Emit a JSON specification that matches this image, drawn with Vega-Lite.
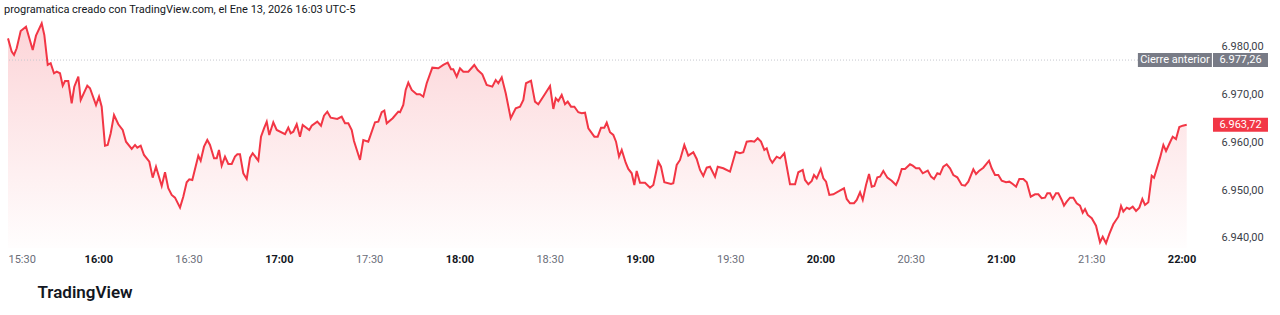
{
  "$schema": "https://vega.github.io/schema/vega-lite/v6.json",
  "width": 1202,
  "height": 228,
  "autosize": "none",
  "padding": {"left": 8, "top": 20, "right": 70, "bottom": 67},
  "background": "#ffffff",
  "title": {
    "text": "programatica creado con TradingView.com, el Ene 13, 2026 16:03 UTC-5",
    "anchor": "start",
    "fontSize": 11,
    "fontWeight": "normal",
    "color": "#131722",
    "font": "Roboto",
    "offset": 4
  },
  "config": {
    "view": {"stroke": null},
    "font": "Roboto"
  },
  "layer": [
    {
      "data": {"name": "serie", "values": [
        {"time":"2026-01-13T15:30:00","price":6981.8},
        {"time":"2026-01-13T15:31:14","price":6979.02},
        {"time":"2026-01-13T15:32:00","price":6978.33},
        {"time":"2026-01-13T15:32:53","price":6979.73},
        {"time":"2026-01-13T15:34:13","price":6983.35},
        {"time":"2026-01-13T15:35:59","price":6984.25},
        {"time":"2026-01-13T15:38:13","price":6979.37},
        {"time":"2026-01-13T15:39:18","price":6982.37},
        {"time":"2026-01-13T15:41:12","price":6984.96},
        {"time":"2026-01-13T15:42:04","price":6982.51},
        {"time":"2026-01-13T15:43:12","price":6976.23},
        {"time":"2026-01-13T15:44:11","price":6976.59},
        {"time":"2026-01-13T15:45:17","price":6974.49},
        {"time":"2026-01-13T15:46:11","price":6974.83},
        {"time":"2026-01-13T15:47:17","price":6974.49},
        {"time":"2026-01-13T15:48:11","price":6971.9},
        {"time":"2026-01-13T15:48:57","price":6972.88},
        {"time":"2026-01-13T15:50:02","price":6972.88},
        {"time":"2026-01-13T15:51:10","price":6968.21},
        {"time":"2026-01-13T15:52:02","price":6971.69},
        {"time":"2026-01-13T15:53:22","price":6973.78},
        {"time":"2026-01-13T15:54:10","price":6968.9},
        {"time":"2026-01-13T15:56:21","price":6971.9},
        {"time":"2026-01-13T15:57:15","price":6971.35},
        {"time":"2026-01-13T15:59:15","price":6967.85},
        {"time":"2026-01-13T16:00:15","price":6969.59},
        {"time":"2026-01-13T16:01:08","price":6967.5},
        {"time":"2026-01-13T16:02:14","price":6959.33},
        {"time":"2026-01-13T16:03:08","price":6959.48},
        {"time":"2026-01-13T16:04:08","price":6961.93},
        {"time":"2026-01-13T16:05:14","price":6965.76},
        {"time":"2026-01-13T16:06:40","price":6963.81},
        {"time":"2026-01-13T16:08:07","price":6962.62},
        {"time":"2026-01-13T16:09:13","price":6960.17},
        {"time":"2026-01-13T16:11:07","price":6958.64},
        {"time":"2026-01-13T16:12:13","price":6959.48},
        {"time":"2026-01-13T16:12:58","price":6958.91},
        {"time":"2026-01-13T16:14:06","price":6959.33},
        {"time":"2026-01-13T16:15:12","price":6957.38},
        {"time":"2026-01-13T16:16:58","price":6955.98},
        {"time":"2026-01-13T16:18:05","price":6952.63},
        {"time":"2026-01-13T16:19:11","price":6954.93},
        {"time":"2026-01-13T16:21:05","price":6950.89},
        {"time":"2026-01-13T16:22:11","price":6953.76},
        {"time":"2026-01-13T16:23:16","price":6950.41},
        {"time":"2026-01-13T16:24:24","price":6949.01},
        {"time":"2026-01-13T16:25:30","price":6948.44},
        {"time":"2026-01-13T16:27:10","price":6946.35},
        {"time":"2026-01-13T16:28:15","price":6948.65},
        {"time":"2026-01-13T16:29:23","price":6951.67},
        {"time":"2026-01-13T16:30:15","price":6952.29},
        {"time":"2026-01-13T16:31:15","price":6952.15},
        {"time":"2026-01-13T16:33:15","price":6957.24},
        {"time":"2026-01-13T16:34:02","price":6956.19},
        {"time":"2026-01-13T16:35:08","price":6959.12},
        {"time":"2026-01-13T16:36:14","price":6960.52},
        {"time":"2026-01-13T16:37:08","price":6959.48},
        {"time":"2026-01-13T16:38:28","price":6956.69},
        {"time":"2026-01-13T16:39:22","price":6956.69},
        {"time":"2026-01-13T16:40:07","price":6958.43},
        {"time":"2026-01-13T16:41:01","price":6955.14},
        {"time":"2026-01-13T16:42:07","price":6957.03},
        {"time":"2026-01-13T16:43:13","price":6955.5},
        {"time":"2026-01-13T16:44:21","price":6955.5},
        {"time":"2026-01-13T16:45:26","price":6957.03},
        {"time":"2026-01-13T16:46:13","price":6957.53},
        {"time":"2026-01-13T16:47:06","price":6957.53},
        {"time":"2026-01-13T16:48:12","price":6953.55},
        {"time":"2026-01-13T16:49:20","price":6952.36},
        {"time":"2026-01-13T16:50:26","price":6956.82},
        {"time":"2026-01-13T16:51:19","price":6957.74},
        {"time":"2026-01-13T16:53:11","price":6956.19},
        {"time":"2026-01-13T16:54:05","price":6961.22},
        {"time":"2026-01-13T16:55:05","price":6962.97},
        {"time":"2026-01-13T16:55:59","price":6964.36},
        {"time":"2026-01-13T16:56:50","price":6961.57},
        {"time":"2026-01-13T16:58:10","price":6964.23},
        {"time":"2026-01-13T16:59:18","price":6962.62},
        {"time":"2026-01-13T17:02:04","price":6961.72},
        {"time":"2026-01-13T17:03:09","price":6963.1},
        {"time":"2026-01-13T17:03:57","price":6961.93},
        {"time":"2026-01-13T17:04:49","price":6962.26},
        {"time":"2026-01-13T17:05:57","price":6963.81},
        {"time":"2026-01-13T17:07:02","price":6961.22},
        {"time":"2026-01-13T17:07:56","price":6963.67},
        {"time":"2026-01-13T17:10:08","price":6962.62},
        {"time":"2026-01-13T17:10:56","price":6963.52},
        {"time":"2026-01-13T17:12:47","price":6964.36},
        {"time":"2026-01-13T17:14:01","price":6963.52},
        {"time":"2026-01-13T17:15:01","price":6965.61},
        {"time":"2026-01-13T17:16:07","price":6966.45},
        {"time":"2026-01-13T17:17:15","price":6965.19},
        {"time":"2026-01-13T17:19:26","price":6964.92},
        {"time":"2026-01-13T17:20:54","price":6965.4},
        {"time":"2026-01-13T17:22:00","price":6964.02},
        {"time":"2026-01-13T17:23:06","price":6964.02},
        {"time":"2026-01-13T17:24:14","price":6962.62},
        {"time":"2026-01-13T17:24:59","price":6960.31},
        {"time":"2026-01-13T17:26:59","price":6956.34},
        {"time":"2026-01-13T17:28:05","price":6960.52},
        {"time":"2026-01-13T17:29:44","price":6960.17},
        {"time":"2026-01-13T17:31:58","price":6964.23},
        {"time":"2026-01-13T17:33:04","price":6964.36},
        {"time":"2026-01-13T17:34:12","price":6966.33},
        {"time":"2026-01-13T17:35:04","price":6966.66},
        {"time":"2026-01-13T17:35:52","price":6964.02},
        {"time":"2026-01-13T17:37:51","price":6965.07},
        {"time":"2026-01-13T17:39:43","price":6966.45},
        {"time":"2026-01-13T17:40:17","price":6966.33},
        {"time":"2026-01-13T17:41:22","price":6967.85},
        {"time":"2026-01-13T17:42:10","price":6971.0},
        {"time":"2026-01-13T17:43:02","price":6972.52},
        {"time":"2026-01-13T17:44:10","price":6971.0},
        {"time":"2026-01-13T17:45:50","price":6970.1},
        {"time":"2026-01-13T17:46:55","price":6970.1},
        {"time":"2026-01-13T17:48:01","price":6969.59},
        {"time":"2026-01-13T17:49:09","price":6972.4},
        {"time":"2026-01-13T17:51:01","price":6975.67},
        {"time":"2026-01-13T17:53:01","price":6975.54},
        {"time":"2026-01-13T17:54:40","price":6976.23},
        {"time":"2026-01-13T17:56:08","price":6976.71},
        {"time":"2026-01-13T17:57:14","price":6975.33},
        {"time":"2026-01-13T17:57:59","price":6975.33},
        {"time":"2026-01-13T17:59:07","price":6973.78},
        {"time":"2026-01-13T18:00:13","price":6975.54},
        {"time":"2026-01-13T18:01:19","price":6974.83},
        {"time":"2026-01-13T18:02:59","price":6974.83},
        {"time":"2026-01-13T18:04:58","price":6976.23},
        {"time":"2026-01-13T18:06:06","price":6975.18},
        {"time":"2026-01-13T18:07:38","price":6974.28},
        {"time":"2026-01-13T18:09:05","price":6972.04},
        {"time":"2026-01-13T18:10:57","price":6971.69},
        {"time":"2026-01-13T18:12:05","price":6973.09},
        {"time":"2026-01-13T18:12:57","price":6972.4},
        {"time":"2026-01-13T18:14:05","price":6973.65},
        {"time":"2026-01-13T18:15:25","price":6970.3},
        {"time":"2026-01-13T18:17:04","price":6965.07},
        {"time":"2026-01-13T18:18:44","price":6967.16},
        {"time":"2026-01-13T18:20:10","price":6967.5},
        {"time":"2026-01-13T18:21:16","price":6968.9},
        {"time":"2026-01-13T18:22:09","price":6972.4},
        {"time":"2026-01-13T18:23:49","price":6972.94},
        {"time":"2026-01-13T18:25:08","price":6968.55},
        {"time":"2026-01-13T18:26:14","price":6968.0},
        {"time":"2026-01-13T18:28:14","price":6969.95},
        {"time":"2026-01-13T18:30:08","price":6971.83},
        {"time":"2026-01-13T18:31:14","price":6967.02},
        {"time":"2026-01-13T18:32:02","price":6969.26},
        {"time":"2026-01-13T18:32:53","price":6968.69},
        {"time":"2026-01-13T18:34:01","price":6969.95},
        {"time":"2026-01-13T18:35:07","price":6968.0},
        {"time":"2026-01-13T18:36:01","price":6968.55},
        {"time":"2026-01-13T18:37:07","price":6967.5},
        {"time":"2026-01-13T18:38:13","price":6967.5},
        {"time":"2026-01-13T18:39:32","price":6966.33},
        {"time":"2026-01-13T18:40:40","price":6966.12},
        {"time":"2026-01-13T18:41:46","price":6966.24},
        {"time":"2026-01-13T18:42:52","price":6962.97},
        {"time":"2026-01-13T18:44:52","price":6961.22},
        {"time":"2026-01-13T18:45:59","price":6961.22},
        {"time":"2026-01-13T18:47:05","price":6963.1},
        {"time":"2026-01-13T18:48:11","price":6963.1},
        {"time":"2026-01-13T18:48:59","price":6964.15},
        {"time":"2026-01-13T18:50:04","price":6962.14},
        {"time":"2026-01-13T18:51:10","price":6961.57},
        {"time":"2026-01-13T18:52:04","price":6960.17},
        {"time":"2026-01-13T18:53:04","price":6957.03},
        {"time":"2026-01-13T18:53:58","price":6958.43},
        {"time":"2026-01-13T18:55:17","price":6955.77},
        {"time":"2026-01-13T18:56:09","price":6954.45},
        {"time":"2026-01-13T18:57:17","price":6953.55},
        {"time":"2026-01-13T18:58:09","price":6951.1},
        {"time":"2026-01-13T18:58:56","price":6954.03},
        {"time":"2026-01-13T19:00:02","price":6951.58},
        {"time":"2026-01-13T19:01:42","price":6951.58},
        {"time":"2026-01-13T19:03:22","price":6950.53},
        {"time":"2026-01-13T19:04:28","price":6951.1},
        {"time":"2026-01-13T19:06:07","price":6955.98},
        {"time":"2026-01-13T19:07:01","price":6954.93},
        {"time":"2026-01-13T19:08:07","price":6951.67},
        {"time":"2026-01-13T19:10:20","price":6951.31},
        {"time":"2026-01-13T19:11:06","price":6951.46},
        {"time":"2026-01-13T19:12:14","price":6955.29},
        {"time":"2026-01-13T19:13:20","price":6956.34},
        {"time":"2026-01-13T19:14:46","price":6959.48},
        {"time":"2026-01-13T19:16:05","price":6957.24},
        {"time":"2026-01-13T19:17:45","price":6957.95},
        {"time":"2026-01-13T19:18:53","price":6956.55},
        {"time":"2026-01-13T19:19:59","price":6954.24},
        {"time":"2026-01-13T19:21:04","price":6952.99},
        {"time":"2026-01-13T19:22:12","price":6954.72},
        {"time":"2026-01-13T19:23:18","price":6954.93},
        {"time":"2026-01-13T19:24:58","price":6952.84},
        {"time":"2026-01-13T19:25:52","price":6954.93},
        {"time":"2026-01-13T19:27:43","price":6954.6},
        {"time":"2026-01-13T19:29:57","price":6953.89},
        {"time":"2026-01-13T19:31:50","price":6958.07},
        {"time":"2026-01-13T19:33:16","price":6957.74},
        {"time":"2026-01-13T19:34:22","price":6957.95},
        {"time":"2026-01-13T19:35:30","price":6960.17},
        {"time":"2026-01-13T19:36:56","price":6960.31},
        {"time":"2026-01-13T19:38:01","price":6960.17},
        {"time":"2026-01-13T19:39:09","price":6960.88},
        {"time":"2026-01-13T19:40:15","price":6960.17},
        {"time":"2026-01-13T19:41:21","price":6958.43},
        {"time":"2026-01-13T19:42:09","price":6958.79},
        {"time":"2026-01-13T19:43:14","price":6956.55},
        {"time":"2026-01-13T19:44:01","price":6955.77},
        {"time":"2026-01-13T19:45:28","price":6957.03},
        {"time":"2026-01-13T19:46:34","price":6956.69},
        {"time":"2026-01-13T19:48:00","price":6957.74},
        {"time":"2026-01-13T19:49:53","price":6951.25},
        {"time":"2026-01-13T19:51:34","price":6951.25},
        {"time":"2026-01-13T19:52:39","price":6953.76},
        {"time":"2026-01-13T19:54:07","price":6954.24},
        {"time":"2026-01-13T19:54:53","price":6952.15},
        {"time":"2026-01-13T19:55:59","price":6951.25},
        {"time":"2026-01-13T19:57:07","price":6951.94},
        {"time":"2026-01-13T19:57:52","price":6953.19},
        {"time":"2026-01-13T19:58:46","price":6952.5},
        {"time":"2026-01-13T20:00:06","price":6954.45},
        {"time":"2026-01-13T20:00:58","price":6952.5},
        {"time":"2026-01-13T20:01:52","price":6951.79},
        {"time":"2026-01-13T20:02:58","price":6949.01},
        {"time":"2026-01-13T20:04:17","price":6949.15},
        {"time":"2026-01-13T20:06:17","price":6949.84},
        {"time":"2026-01-13T20:07:50","price":6950.41},
        {"time":"2026-01-13T20:08:44","price":6948.17},
        {"time":"2026-01-13T20:09:50","price":6947.27},
        {"time":"2026-01-13T20:11:10","price":6947.27},
        {"time":"2026-01-13T20:12:04","price":6947.96},
        {"time":"2026-01-13T20:13:10","price":6949.57},
        {"time":"2026-01-13T20:14:04","price":6947.96},
        {"time":"2026-01-13T20:15:09","price":6951.1},
        {"time":"2026-01-13T20:16:09","price":6953.4},
        {"time":"2026-01-13T20:17:03","price":6950.74},
        {"time":"2026-01-13T20:17:55","price":6950.89},
        {"time":"2026-01-13T20:18:55","price":6952.71},
        {"time":"2026-01-13T20:19:48","price":6952.84},
        {"time":"2026-01-13T20:20:54","price":6954.03},
        {"time":"2026-01-13T20:22:14","price":6952.63},
        {"time":"2026-01-13T20:23:41","price":6952.0},
        {"time":"2026-01-13T20:25:07","price":6951.1},
        {"time":"2026-01-13T20:25:53","price":6952.15},
        {"time":"2026-01-13T20:27:01","price":6954.45},
        {"time":"2026-01-13T20:28:07","price":6954.45},
        {"time":"2026-01-13T20:29:46","price":6955.44},
        {"time":"2026-01-13T20:30:40","price":6955.14},
        {"time":"2026-01-13T20:31:46","price":6954.6},
        {"time":"2026-01-13T20:32:52","price":6954.6},
        {"time":"2026-01-13T20:34:00","price":6953.55},
        {"time":"2026-01-13T20:35:40","price":6954.1},
        {"time":"2026-01-13T20:36:45","price":6952.84},
        {"time":"2026-01-13T20:37:45","price":6952.36},
        {"time":"2026-01-13T20:38:51","price":6953.55},
        {"time":"2026-01-13T20:39:44","price":6953.34},
        {"time":"2026-01-13T20:40:50","price":6954.93},
        {"time":"2026-01-13T20:41:58","price":6955.44},
        {"time":"2026-01-13T20:43:04","price":6954.6},
        {"time":"2026-01-13T20:44:10","price":6953.19},
        {"time":"2026-01-13T20:45:29","price":6952.71},
        {"time":"2026-01-13T20:46:57","price":6951.1},
        {"time":"2026-01-13T20:48:03","price":6950.95},
        {"time":"2026-01-13T20:49:09","price":6951.79},
        {"time":"2026-01-13T20:50:49","price":6954.39},
        {"time":"2026-01-13T20:51:43","price":6953.4},
        {"time":"2026-01-13T20:52:48","price":6954.1},
        {"time":"2026-01-13T20:54:08","price":6954.72},
        {"time":"2026-01-13T20:56:02","price":6956.19},
        {"time":"2026-01-13T20:56:55","price":6954.6},
        {"time":"2026-01-13T20:58:01","price":6953.19},
        {"time":"2026-01-13T20:59:07","price":6953.19},
        {"time":"2026-01-13T21:00:15","price":6952.0},
        {"time":"2026-01-13T21:01:41","price":6951.67},
        {"time":"2026-01-13T21:02:47","price":6951.79},
        {"time":"2026-01-13T21:03:55","price":6951.31},
        {"time":"2026-01-13T21:05:01","price":6950.74},
        {"time":"2026-01-13T21:06:06","price":6952.36},
        {"time":"2026-01-13T21:07:26","price":6952.36},
        {"time":"2026-01-13T21:08:34","price":6951.67},
        {"time":"2026-01-13T21:09:53","price":6948.65},
        {"time":"2026-01-13T21:11:19","price":6949.15},
        {"time":"2026-01-13T21:12:25","price":6949.15},
        {"time":"2026-01-13T21:13:32","price":6948.32},
        {"time":"2026-01-13T21:14:38","price":6948.44},
        {"time":"2026-01-13T21:15:24","price":6949.36},
        {"time":"2026-01-13T21:16:18","price":6949.36},
        {"time":"2026-01-13T21:17:12","price":6948.17},
        {"time":"2026-01-13T21:18:17","price":6949.36},
        {"time":"2026-01-13T21:19:04","price":6949.36},
        {"time":"2026-01-13T21:20:11","price":6947.96},
        {"time":"2026-01-13T21:20:57","price":6946.77},
        {"time":"2026-01-13T21:21:51","price":6947.6},
        {"time":"2026-01-13T21:22:57","price":6948.44},
        {"time":"2026-01-13T21:24:02","price":6948.44},
        {"time":"2026-01-13T21:25:10","price":6947.27},
        {"time":"2026-01-13T21:26:16","price":6946.77},
        {"time":"2026-01-13T21:27:10","price":6945.3},
        {"time":"2026-01-13T21:27:56","price":6946.07},
        {"time":"2026-01-13T21:28:50","price":6944.82},
        {"time":"2026-01-13T21:30:10","price":6944.13},
        {"time":"2026-01-13T21:31:35","price":6942.58},
        {"time":"2026-01-13T21:32:55","price":6939.1},
        {"time":"2026-01-13T21:33:49","price":6940.27},
        {"time":"2026-01-13T21:34:55","price":6938.89},
        {"time":"2026-01-13T21:36:01","price":6940.84},
        {"time":"2026-01-13T21:37:20","price":6942.87},
        {"time":"2026-01-13T21:39:00","price":6944.46},
        {"time":"2026-01-13T21:39:54","price":6946.7},
        {"time":"2026-01-13T21:40:40","price":6945.51},
        {"time":"2026-01-13T21:41:47","price":6946.35},
        {"time":"2026-01-13T21:42:40","price":6946.07},
        {"time":"2026-01-13T21:43:47","price":6946.56},
        {"time":"2026-01-13T21:44:53","price":6945.66},
        {"time":"2026-01-13T21:45:59","price":6946.35},
        {"time":"2026-01-13T21:46:59","price":6948.17},
        {"time":"2026-01-13T21:47:52","price":6946.91},
        {"time":"2026-01-13T21:48:58","price":6947.48},
        {"time":"2026-01-13T21:50:06","price":6953.05},
        {"time":"2026-01-13T21:50:52","price":6952.63},
        {"time":"2026-01-13T21:51:58","price":6954.93},
        {"time":"2026-01-13T21:52:52","price":6956.82},
        {"time":"2026-01-13T21:53:58","price":6959.48},
        {"time":"2026-01-13T21:54:51","price":6958.22},
        {"time":"2026-01-13T21:56:11","price":6960.04},
        {"time":"2026-01-13T21:57:05","price":6961.22},
        {"time":"2026-01-13T21:58:10","price":6960.73},
        {"time":"2026-01-13T21:59:16","price":6963.25},
        {"time":"2026-01-13T22:00:24","price":6963.52},
        {"time":"2026-01-13T22:01:44","price":6963.72}
      ]},
      "mark": {
        "type": "area",
        "color": {
          "gradient": "linear",
          "x1": 1, "y1": 1, "x2": 1, "y2": 0,
          "stops": [
            {"offset": 0, "color": "rgba(242,54,69,0.01)"},
            {"offset": 1, "color": "rgba(242,54,69,0.3)"}
          ]
        },
        "line": {"color": "#f23645", "strokeWidth": 2}
      },
      "encoding": {
        "x": {
          "field": "time",
          "type": "temporal",
          "scale": {"domain": [
            {"year": 2026, "month": 1, "date": 13, "hours": 15, "minutes": 30},
            {"year": 2026, "month": 1, "date": 13, "hours": 22, "minutes": 9, "seconds": 28}
          ]},
          "axis": {
            "title": "TradingView",
            "titleAnchor": "start",
            "titleAlign": "left",
            "titleBaseline": "middle",
            "titleX": 29,
            "titleY": 44,
            "titleFontSize": 17,
            "titleFontWeight": 600,
            "titleColor": "#131722",
            "titleFont": "Roboto",
            "values": [
              {"year": 2026, "month": 1, "date": 13, "hours": 15, "minutes": 30},
              {"year": 2026, "month": 1, "date": 13, "hours": 16, "minutes": 0},
              {"year": 2026, "month": 1, "date": 13, "hours": 16, "minutes": 30},
              {"year": 2026, "month": 1, "date": 13, "hours": 17, "minutes": 0},
              {"year": 2026, "month": 1, "date": 13, "hours": 17, "minutes": 30},
              {"year": 2026, "month": 1, "date": 13, "hours": 18, "minutes": 0},
              {"year": 2026, "month": 1, "date": 13, "hours": 18, "minutes": 30},
              {"year": 2026, "month": 1, "date": 13, "hours": 19, "minutes": 0},
              {"year": 2026, "month": 1, "date": 13, "hours": 19, "minutes": 30},
              {"year": 2026, "month": 1, "date": 13, "hours": 20, "minutes": 0},
              {"year": 2026, "month": 1, "date": 13, "hours": 20, "minutes": 30},
              {"year": 2026, "month": 1, "date": 13, "hours": 21, "minutes": 0},
              {"year": 2026, "month": 1, "date": 13, "hours": 21, "minutes": 30},
              {"year": 2026, "month": 1, "date": 13, "hours": 22, "minutes": 0}
            ],
            "format": "%H:%M",
            "grid": false,
            "domain": false,
            "ticks": false,
            "labelPadding": 5,
            "labelFlush": true,
            "labelFontSize": 11,
            "labelFont": "Roboto",
            "labelFontWeight": {"condition": {"test": "minutes(datum.value) === 0", "value": "bold"}, "value": "normal"},
            "labelColor": {"condition": {"test": "minutes(datum.value) === 0", "value": "#131722"}, "value": "#6a6d78"}
          }
        },
        "y": {
          "field": "price",
          "type": "quantitative",
          "scale": {"domain": [6937.9, 6985.65], "zero": false, "nice": false},
          "axis": {
            "orient": "right",
            "title": null,
            "values": [6940, 6945, 6950, 6955, 6960, 6965, 6970, 6975, 6980],
            "labelExpr": "replace(replace(replace(format(datum.value, ',.2f'), ',', '#'), '.', ','), '#', '.')",
            "grid": false,
            "domain": false,
            "ticks": false,
            "labelPadding": 11,
            "labelAlign": "left",
            "labelFontSize": 11,
            "labelFont": "Roboto",
            "labelColor": "#3b3e48"
          }
        },
        "y2": {"datum": 6937.9}
      }
    },
    {
      "data": {"values": [{"price": 6977.26}]},
      "mark": {"type": "rule", "color": "#c5c7ce", "strokeWidth": 1, "strokeDash": [1, 2]},
      "encoding": {"y": {"field": "price", "type": "quantitative"}}
    },
    {
      "data": {"values": [{"label": "Cierre anterior", "price": 6977.26}]},
      "layer": [
        {
          "mark": {"type": "point", "shape": "M-1,-0.189H1V0.189H-1Z", "size": 5476, "filled": true, "opacity": 1, "color": "#787b86", "strokeWidth": 0, "clip": false},
          "encoding": {
            "x": {"datum": {"year": 2026, "month": 1, "date": 13, "hours": 21, "minutes": 57, "seconds": 48}, "type": "temporal"},
            "y": {"field": "price", "type": "quantitative"}
          }
        },
        {
          "mark": {"type": "text", "color": "#ffffff", "fontSize": 11, "font": "Roboto", "align": "center", "baseline": "middle", "clip": false},
          "encoding": {
            "x": {"datum": {"year": 2026, "month": 1, "date": 13, "hours": 21, "minutes": 57, "seconds": 48}, "type": "temporal"},
            "y": {"field": "price", "type": "quantitative"},
            "text": {"field": "label"}
          }
        }
      ]
    },
    {
      "data": {"values": [
        {"label": "6.977,26", "price": 6977.26, "kind": "prev"},
        {"label": "6.963,72", "price": 6963.72, "kind": "last"}
      ]},
      "layer": [
        {
          "mark": {"type": "point", "shape": "M-1,-0.2545H1V0.2545H-1Z", "size": 3025, "filled": true, "opacity": 1, "strokeWidth": 0, "clip": false},
          "encoding": {
            "x": {"datum": {"year": 2026, "month": 1, "date": 13, "hours": 22, "minutes": 19, "seconds": 36}, "type": "temporal"},
            "y": {"field": "price", "type": "quantitative"},
            "color": {"field": "kind", "type": "nominal", "scale": {"domain": ["prev", "last"], "range": ["#787b86", "#f23645"]}, "legend": null}
          }
        },
        {
          "mark": {"type": "text", "color": "#ffffff", "fontSize": 11, "font": "Roboto", "align": "center", "baseline": "middle", "clip": false},
          "encoding": {
            "x": {"datum": {"year": 2026, "month": 1, "date": 13, "hours": 22, "minutes": 19, "seconds": 36}, "type": "temporal"},
            "y": {"field": "price", "type": "quantitative"},
            "text": {"field": "label"}
          }
        }
      ]
    }
  ]
}
